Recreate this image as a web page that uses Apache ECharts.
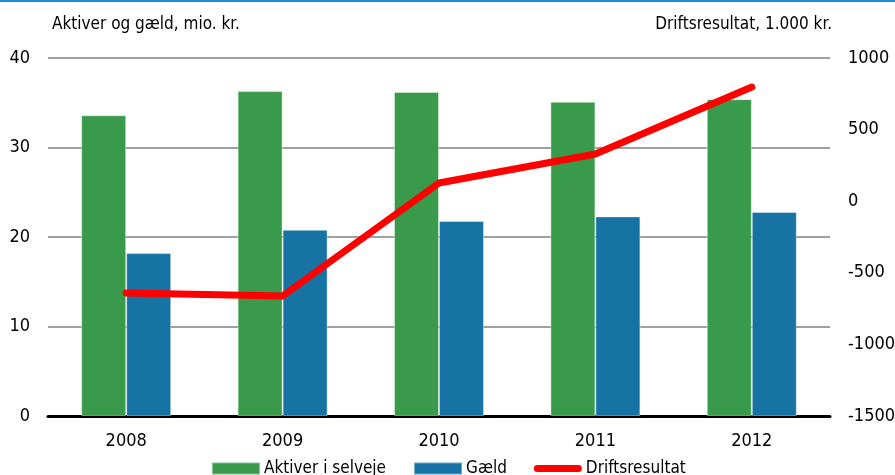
<!DOCTYPE html>
<html>
<head>
<meta charset="utf-8">
<script src="https://cdn.jsdelivr.net/npm/echarts@6/dist/echarts.min.js"></script>
<style>
  html, body { margin: 0; padding: 0; background: #fff; }
  #chart { width: 895px; height: 475px; }
</style>
</head>
<body>
<div id="chart"></div>
<script>
var years = ['2008', '2009', '2010', '2011', '2012'];
var aktiver = [33.6, 36.3, 36.2, 35.1, 35.4];
var gaeld = [18.2, 20.8, 21.8, 22.3, 22.8];
var drift = [-641, -662, 127, 330, 797];

var font = '"DejaVu Sans Condensed", "Liberation Sans Narrow", sans-serif';
var fs = 17;
var chart = echarts.init(document.getElementById('chart'));

// thick rounded line for the legend, padded to the 48x12 icon box
var lineIcon = 'path://M0,0 M48,12 M3.5,2.5 L44.5,2.5 A3.5,3.5 0 0 1 44.5,9.5 L3.5,9.5 A3.5,3.5 0 0 1 3.5,2.5 Z';

chart.setOption({
    animation: false,
    textStyle: {fontFamily: font},
    graphic: [{
        type: 'rect',
        shape: {x: 0, y: 0, width: 895, height: 2},
        style: {fill: '#1a8fd0'}
    }],
    grid: {left: 48, right: 65, top: 58, bottom: 59, outerBoundsMode: 'none', containLabel: false},
    legend: {
        bottom: -7,
        left: 206,
        itemWidth: 48,
        itemHeight: 12,
        itemGap: 27,
        textStyle: {fontFamily: font, fontSize: fs, color: '#000', padding: [0, 0, 0, -1]},
        data: [
            {name: 'Aktiver i selveje', icon: 'rect'},
            {name: 'Gæld', icon: 'rect'},
            {name: 'Driftsresultat', icon: lineIcon}
        ]
    },
    xAxis: {
        type: 'category',
        data: years,
        axisTick: {show: false},
        axisLine: {lineStyle: {color: '#000', width: 3}},
        axisLabel: {fontFamily: font, fontSize: 18, color: '#000', margin: 16}
    },
    yAxis: [{
        type: 'value',
        min: 0, max: 40, interval: 10,
        name: 'Aktiver og gæld, mio. kr.',
        nameLocation: 'end',
        nameGap: 25,
        nameTextStyle: {fontFamily: font, fontSize: fs, color: '#000', align: 'left', padding: [0, 0, 0, 4]},
        axisLine: {show: false},
        axisTick: {show: false},
        axisLabel: {fontFamily: font, fontSize: 18, color: '#000', margin: 18},
        splitLine: {lineStyle: {color: '#a0a0a0', width: 2}}
    }, {
        type: 'value',
        min: -1500, max: 1000, interval: 500,
        name: 'Driftsresultat, 1.000 kr.',
        nameLocation: 'end',
        nameGap: 25,
        nameTextStyle: {fontFamily: font, fontSize: fs, color: '#000', align: 'right', padding: [0, -2, 0, 0]},
        axisLine: {show: false},
        axisTick: {show: false},
        axisLabel: {fontFamily: font, fontSize: 18, color: '#000', margin: 18, formatter: function (v) { return String(v); }},
        splitLine: {show: false}
    }],
    series: [{
        name: 'Aktiver i selveje',
        type: 'bar',
        data: aktiver,
        barWidth: 45,
        barGap: '0%',
        itemStyle: {color: '#389a4a', borderColor: 'rgba(255,255,255,0.4)', borderWidth: 1}
    }, {
        name: 'Gæld',
        type: 'bar',
        data: gaeld,
        barWidth: 45,
        itemStyle: {color: '#1673a4', borderColor: 'rgba(255,255,255,0.4)', borderWidth: 1}
    }, {
        name: 'Driftsresultat',
        type: 'line',
        yAxisIndex: 1,
        data: drift,
        symbol: 'none',
        lineStyle: {color: '#ff0000', width: 7, cap: 'round', join: 'round'},
        itemStyle: {color: '#ff0000'}
    }]
});
</script>
</body>
</html>
